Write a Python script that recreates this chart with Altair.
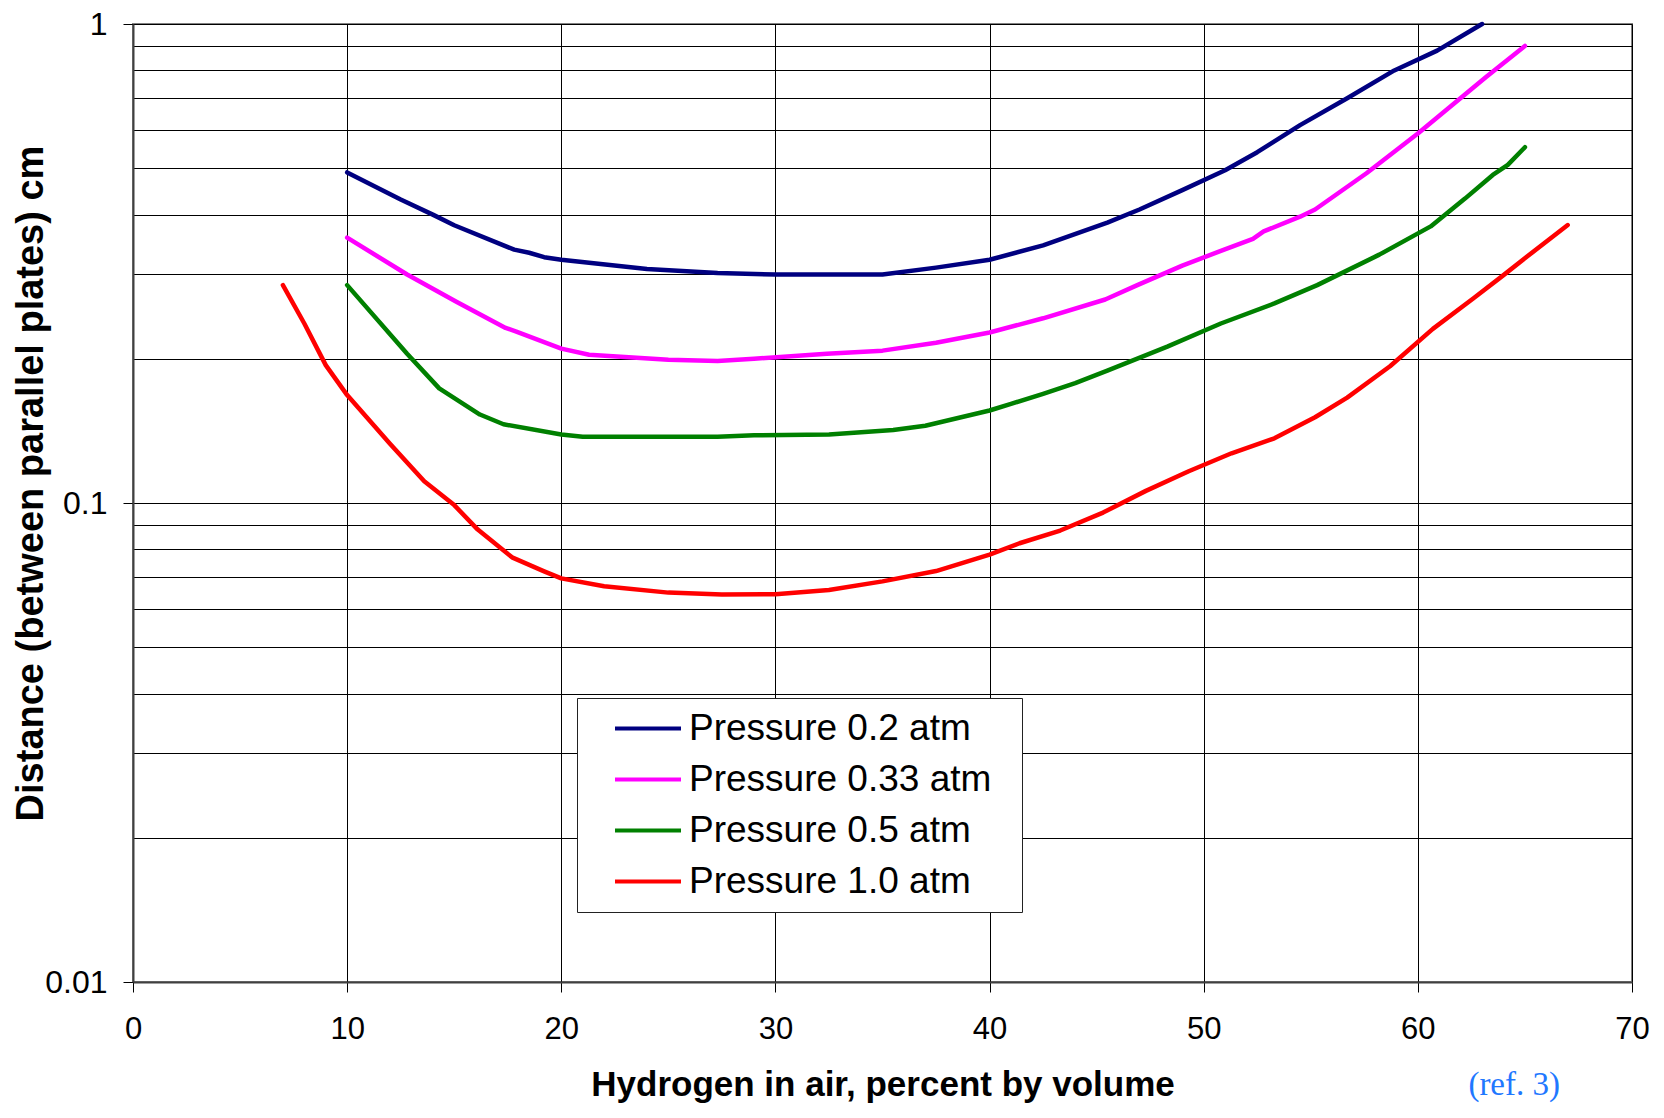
import altair as alt
import pandas as pd

# ---- data ----
series_labels = ["Pressure 0.2 atm", "Pressure 0.33 atm", "Pressure 0.5 atm", "Pressure 1.0 atm"]
series_colors = ["#000080", "#FF00FF", "#008000", "#FF0000"]

x_02 = [10, 12.5, 14, 15, 17.8, 18.5, 19.2, 20, 24, 27.3, 30, 35, 37.5, 40, 42.5, 45.5, 47, 49, 51, 52.5, 54.5, 56.7, 58.9, 60.9, 63]
y_02 = [0.49, 0.43, 0.40, 0.38, 0.338, 0.333, 0.326, 0.322, 0.308, 0.302, 0.30, 0.30, 0.31, 0.322, 0.345, 0.385, 0.41, 0.45, 0.495, 0.54, 0.615, 0.70, 0.80, 0.88, 1.0]

x_033 = [10, 12.8, 15.1, 17.4, 17.9, 20, 21.3, 25, 27.3, 29, 32.4, 35, 37.5, 40, 42.5, 45.4, 46.9, 49, 50.8, 52.3, 52.8, 54.5, 55.2, 57.6, 60, 63.2, 65]
y_033 = [0.358, 0.30, 0.263, 0.232, 0.228, 0.21, 0.204, 0.199, 0.198, 0.200, 0.205, 0.208, 0.216, 0.227, 0.243, 0.266, 0.285, 0.313, 0.336, 0.356, 0.369, 0.396, 0.41, 0.488, 0.591, 0.776, 0.90]

x_05 = [10, 12.8, 14.3, 16.2, 17.3, 20, 21, 27.3, 29, 32.5, 35.5, 37, 40, 41, 42.5, 44, 45.5, 48.3, 50.8, 53.3, 55.3, 58.2, 60.6, 62.2, 63.5, 64.2, 65]
y_05 = [0.285, 0.205, 0.1735, 0.153, 0.146, 0.139, 0.1375, 0.1375, 0.1385, 0.139, 0.142, 0.145, 0.156, 0.161, 0.169, 0.178, 0.189, 0.212, 0.237, 0.261, 0.285, 0.330, 0.378, 0.432, 0.484, 0.508, 0.553]

x_10 = [7, 8, 9, 10, 12, 13.6, 15, 16.1, 17.7, 19.2, 20, 22, 25, 27.5, 30, 32.5, 35, 37.5, 40, 41.4, 43.3, 45.3, 47.3, 49.3, 51.3, 53.3, 55.2, 56.7, 58.7, 60.7, 62.6, 64, 65.1, 67]
y_10 = [0.285, 0.237, 0.194, 0.168, 0.133, 0.111, 0.099, 0.088, 0.077, 0.072, 0.0696, 0.067, 0.065, 0.0644, 0.0645, 0.0658, 0.0686, 0.0721, 0.078, 0.0824, 0.0876, 0.0955, 0.106, 0.1165, 0.127, 0.1365, 0.151, 0.166, 0.193, 0.231, 0.2675, 0.299, 0.327, 0.3805]

x_ticks = [0, 10, 20, 30, 40, 50, 60, 70]
y_grid = [0.01, 0.02, 0.03, 0.04, 0.05, 0.06, 0.07, 0.08, 0.09,
          0.1, 0.2, 0.3, 0.4, 0.5, 0.6, 0.7, 0.8, 0.9, 1]
y_label_values = [0.01, 0.1, 1]

x_title = "Hydrogen in air, percent by volume"
y_title = "Distance (between parallel plates) cm"
ref_text = ["(ref. 3)"]

# ---- build table ----
rows = []
for lab, xs, ys in zip(series_labels, [x_02, x_033, x_05, x_10], [y_02, y_033, y_05, y_10]):
    for i, (xv, yv) in enumerate(zip(xs, ys)):
        rows.append({"series": lab, "x": xv, "y": yv, "i": i})
df = pd.DataFrame(rows)

SANS = "Liberation Sans"
decade_test = "indexof([" + ",".join(str(v) for v in y_label_values) + "], datum.value) >= 0"

lines = alt.Chart(df).mark_line(strokeWidth=4.5, strokeCap="round", strokeJoin="round").encode(
    x=alt.X("x:Q",
            scale=alt.Scale(domain=[0, 70], nice=False, zero=False),
            axis=alt.Axis(values=x_ticks, title=x_title, grid=True,
                          gridColor="#000000", gridWidth=1,
                          tickColor="#000000", tickSize=10, tickWidth=1,
                          domainColor="#404040", domainWidth=2,
                          labelFont=SANS, labelFontSize=31, labelColor="#000000",
                          labelPadding=22, labelFlush=False, labelOverlap=False,
                          titleFont=SANS, titleFontSize=35, titleFontWeight="bold",
                          titleColor="#000000", titleBaseline="alphabetic",
                          titleY=113)),
    y=alt.Y("y:Q",
            scale=alt.Scale(type="log", domain=[0.01, 1], nice=False),
            axis=alt.Axis(values=y_grid, title=y_title, grid=True,
                          gridColor="#000000", gridWidth=1,
                          format="~g",
                          labelExpr=decade_test + " ? datum.label : ''",
                          tickColor="#000000", tickSize=10, tickWidth=1,
                          tickOpacity={"condition": {"test": decade_test, "value": 1}, "value": 0},
                          domainColor="#404040", domainWidth=2,
                          labelFont=SANS, labelFontSize=32, labelColor="#000000",
                          labelPadding=16, labelFlush=False, labelOverlap=False,
                          titleFont=SANS, titleFontSize=38, titleFontWeight="bold",
                          titleColor="#000000", titleBaseline="alphabetic",
                          titleAngle=270, titleAlign="center",
                          titleX=-91, titleY=459)),
    color=alt.Color("series:N",
                    scale=alt.Scale(domain=series_labels, range=series_colors),
                    legend=alt.Legend(title=None, orient="none", legendX=444, legendY=674,
                                      direction="vertical",
                                      fillColor="#FFFFFF", strokeColor="#222222",
                                      padding=10, symbolType="stroke", symbolSize=4356,
                                      symbolStrokeWidth=4, symbolOffset=26,
                                      clipHeight=41, rowPadding=10,
                                      labelFont=SANS, labelFontSize=37, labelColor="#000000",
                                      labelExpr="datum.label + '\u00a0\u00a0\u200b'",
                                      labelOffset=6, labelLimit=600)),
    order="i:Q",
)

ref = alt.Chart(pd.DataFrame({"t": ref_text})).mark_text(
    font="Liberation Serif", fontSize=33, color="#1F78FF", align="right", baseline="alphabetic"
).encode(text="t:N", x=alt.value(1427), y=alt.value(1071))

chart = alt.layer(lines, ref).properties(
    width=1499, height=958,
    autosize=alt.AutoSizeParams(type="none"),
    padding={"left": 125, "top": 16, "right": 20, "bottom": 124},
    background="#FFFFFF",
).configure_view(stroke="#808080", strokeWidth=2)

chart.save("out.html", embed_options={"renderer": "svg", "actions": False})
